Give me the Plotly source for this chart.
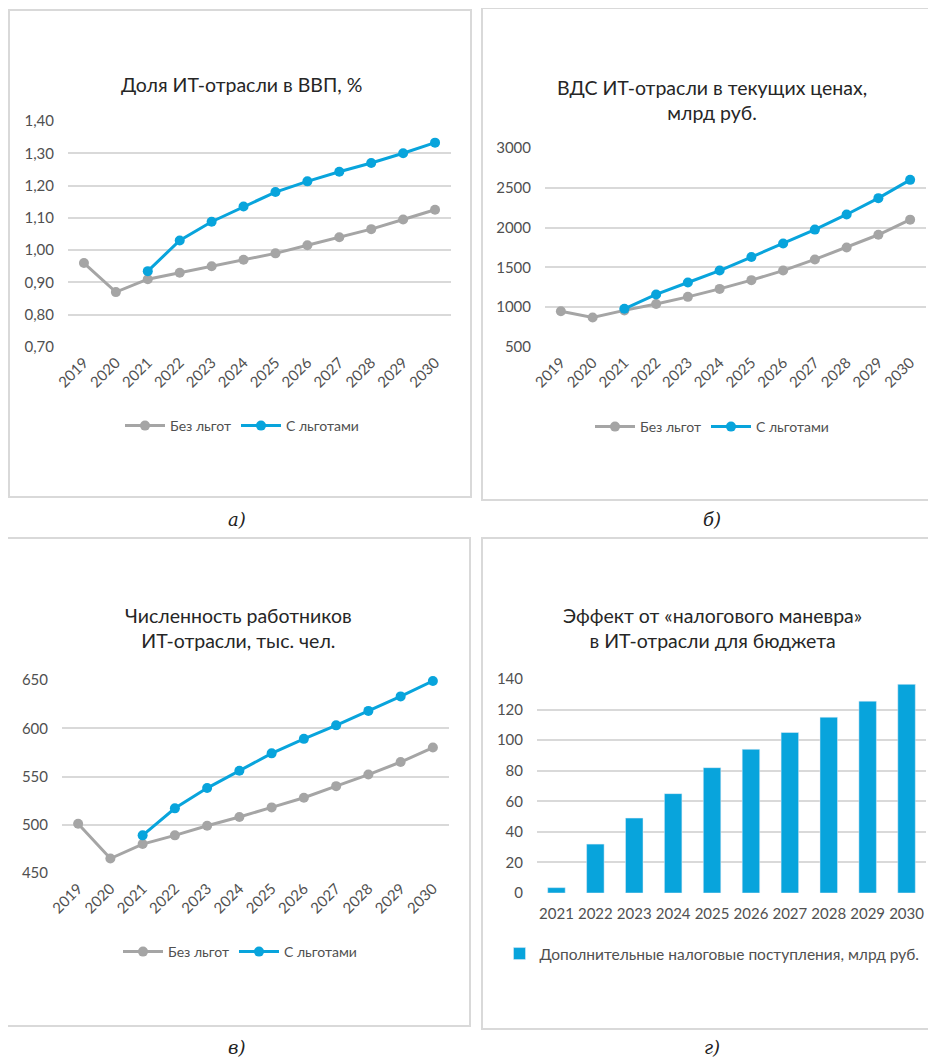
import plotly.graph_objects as go

# ---- data ----
years = ["2019", "2020", "2021", "2022", "2023", "2024",
         "2025", "2026", "2027", "2028", "2029", "2030"]
years_lgot = years[2:]
bar_years = years[2:]

share_base = [0.96, 0.87, 0.91, 0.93, 0.95, 0.97, 0.99, 1.015, 1.04, 1.065, 1.095, 1.125]
share_lgot = [0.935, 1.03, 1.088, 1.135, 1.18, 1.213, 1.243, 1.27, 1.30, 1.333]

gva_base = [950, 870, 960, 1040, 1130, 1230, 1340, 1460, 1600, 1750, 1910, 2100]
gva_lgot = [980, 1160, 1310, 1460, 1630, 1800, 1975, 2165, 2370, 2600]

staff_base = [501, 465, 480, 489, 499, 508, 518, 528, 540, 552, 565, 580]
staff_lgot = [489, 517, 538, 556, 574, 589, 603, 618, 633, 649]

tax_extra = [3.5, 32, 49, 65, 82, 94, 105, 115, 125.5, 136.5]

titles = ["Доля ИТ-отрасли в ВВП, %",
          "ВДС ИТ-отрасли в текущих ценах,<br>млрд руб.",
          "Численность работников<br>ИТ-отрасли, тыс. чел.",
          "Эффект от «налогового маневра»<br>в ИТ-отрасли для бюджета"]
captions = ["а)", "б)", "в)", "г)"]
name_base = "Без льгот"
name_lgot = "С льготами"
name_bar = "Дополнительные налоговые поступления, млрд руб."

# ---- styling ----
# the page body keeps its default 8px margin, so the figure is drawn 8px smaller
# and every position below is shifted by OFF
OFF = 8
W, H = 936 - OFF, 1060 - OFF
GRAY = "#A5A5A5"
BLUE = "#08A4DC"
GRID = "#D9D9D9"
TICK = "#505050"
FONT = "Lato"


def fx(x):
    return (x - OFF) / W


def fy(y):
    return 1 - (y - OFF) / H


def px(x0, x1):
    return [fx(x0), fx(x1)]


def py(top, bottom):
    return [fy(bottom), fy(top)]


fig = go.Figure()

panels = [
    dict(x=px(68, 451), y=py(121, 347), yr=[0.7, 1.4], dt=0.1, fmt=".2f",
         base=share_base, lgot=share_lgot, legend="legend", lx=242, ly=426),
    dict(x=px(545, 926), y=py(148, 347), yr=[500, 3000], dt=500, fmt="d",
         base=gva_base, lgot=gva_lgot, legend="legend2", lx=712, ly=427),
    dict(x=px(62, 449), y=py(680, 873), yr=[450, 650], dt=50, fmt="d",
         base=staff_base, lgot=staff_lgot, legend="legend3", lx=240, ly=952),
]

for i, p in enumerate(panels, start=1):
    xa = "x" if i == 1 else f"x{i}"
    ya = "y" if i == 1 else f"y{i}"
    fig.add_trace(go.Scatter(x=years, y=p["base"], name=name_base, mode="lines+markers",
                             line=dict(color=GRAY, width=3), marker=dict(size=10, color=GRAY),
                             xaxis=xa, yaxis=ya, legend=p["legend"], cliponaxis=False))
    fig.add_trace(go.Scatter(x=years_lgot, y=p["lgot"], name=name_lgot, mode="lines+markers",
                             line=dict(color=BLUE, width=3), marker=dict(size=10, color=BLUE),
                             xaxis=xa, yaxis=ya, legend=p["legend"], cliponaxis=False))
    fig.update_layout({
        ("xaxis" if i == 1 else f"xaxis{i}"): dict(
            domain=p["x"], anchor=ya, type="category", categoryorder="array",
            categoryarray=years, range=[-0.5, 11.5], tickangle=-45, showgrid=False,
            showline=False, ticks="", ticklabelstandoff=3,
            tickfont=dict(family=FONT, size=15, color=TICK)),
        ("yaxis" if i == 1 else f"yaxis{i}"): dict(
            domain=p["y"], anchor=xa, range=p["yr"], dtick=p["dt"], tick0=p["yr"][0],
            tickformat=p["fmt"], showgrid=True, gridcolor=GRID, gridwidth=1.5,
            zeroline=False, showline=False, ticks="", ticklabelstandoff=13,
            tickfont=dict(family=FONT, size=15, color=TICK)),
        p["legend"]: dict(orientation="h", x=fx(p["lx"]), y=fy(p["ly"]),
                          xanchor="center", yanchor="middle", bgcolor="rgba(0,0,0,0)",
                          font=dict(family=FONT, size=14, color=TICK), itemwidth=40),
    })

# bar panel
fig.add_trace(go.Bar(x=bar_years, y=tax_extra, name=name_bar, marker_color=BLUE,
                     xaxis="x4", yaxis="y4", legend="legend4"))
fig.update_layout(
    xaxis4=dict(domain=px(537, 926), anchor="y4", type="category", showgrid=False,
                showline=False, ticks="", tickangle=0, ticklabelstandoff=10,
                tickfont=dict(family=FONT, size=15, color=TICK)),
    yaxis4=dict(domain=py(679, 893), anchor="x4", range=[0, 140], dtick=20,
                showgrid=True, gridcolor=GRID, gridwidth=1.5, zeroline=False,
                showline=False, ticks="", ticklabelstandoff=13,
                tickfont=dict(family=FONT, size=15, color=TICK)),
    legend4=dict(orientation="h", x=fx(712), y=fy(954), xanchor="center",
                 yanchor="middle", bgcolor="rgba(0,0,0,0)", itemwidth=30,
                 font=dict(family=FONT, size=15.5, color=TICK)),
    bargap=0.55,
)

# panel frames, titles and captions
frames = [(9, 10, 471, 497), (482, 8, 940, 500), (7, 538, 470, 1026), (482, 538, 940, 1029)]
title_pos = [(241, 85), (712, 100), (238, 628), (712, 628)]
caption_pos = [(237, 519), (712, 519), (237, 1047), (712, 1047)]

for (x0, y0, x1, y1) in frames:
    fig.add_shape(type="rect", xref="paper", yref="paper",
                  x0=fx(x0), x1=fx(x1), y0=fy(y0), y1=fy(y1),
                  line=dict(color=GRID, width=2), layer="below")

for t, (tx, ty) in zip(titles, title_pos):
    fig.add_annotation(text=t, xref="paper", yref="paper", x=fx(tx), y=fy(ty),
                       showarrow=False, xanchor="center", yanchor="middle",
                       font=dict(family=FONT, size=19.5, color="#262626"))

for c, (cx, cy) in zip(captions, caption_pos):
    fig.add_annotation(text=f"<i>{c}</i>", xref="paper", yref="paper", x=fx(cx), y=fy(cy),
                       showarrow=False, xanchor="center", yanchor="middle",
                       font=dict(family="DejaVu Serif", size=18, color="#222222"))

fig.update_layout(width=W, height=H,
                  margin=dict(l=0, r=0, t=0, b=0, pad=0, autoexpand=False),
                  paper_bgcolor="white", plot_bgcolor="white",
                  separators=", ", showlegend=True)

fig.write_html("out.html")
